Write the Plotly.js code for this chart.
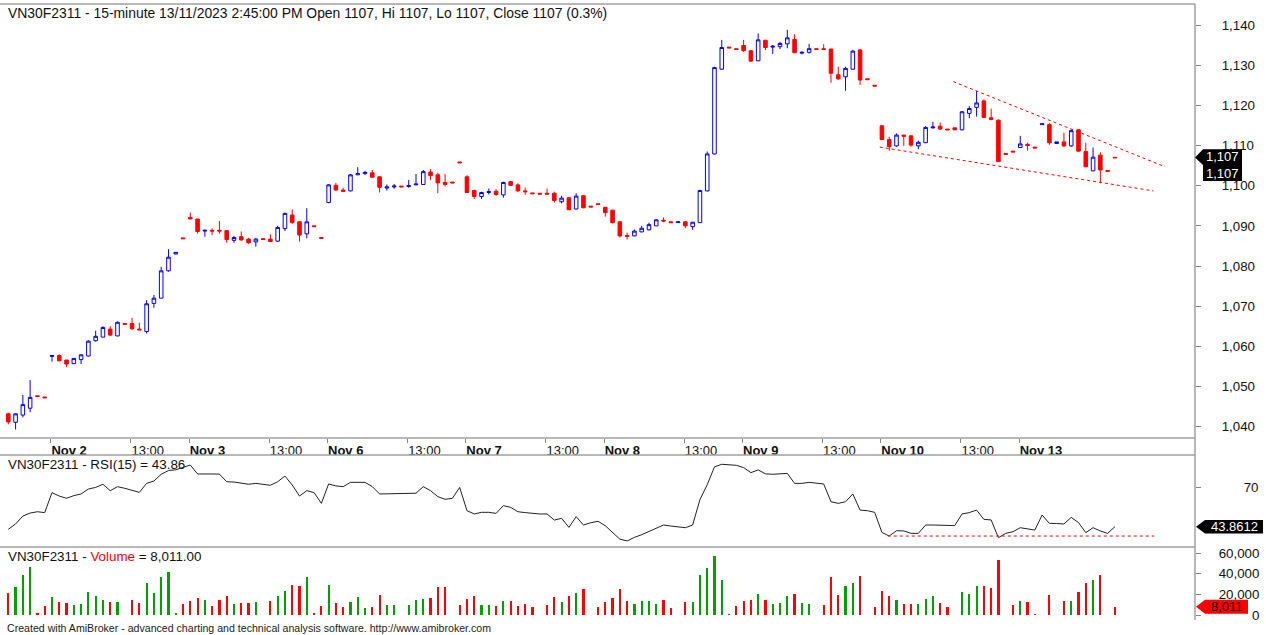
<!DOCTYPE html>
<html><head><meta charset="utf-8">
<script src="https://cdn.plot.ly/plotly-3.0.1.min.js"></script>
<style>html,body{margin:0;padding:0;background:#fff;}#chart{width:1266px;height:635px;}</style>
</head><body><div id="chart"></div>
<script>
// ---- Data (15-minute bars, VN30F2311, 1 Nov afternoon .. 13 Nov 2023) ----
const opens = [
1043.2,1041.1,1042.9,1044.6,1047.7,1047.4,1057.5,1057.7,1056.6,1055.7,
1056.7,1057.6,1061.4,1062.3,1064.3,1062.6,1065.7,1065.7,1064.3,1063.7,
1070.7,1072.0,1078.8,1083.0,1087.0,1092.1,1091.7,1088.7,1088.9,1088.9,
1088.8,1086.4,1087.3,1086.7,1086.0,1086.8,1086.7,1086.2,1089.3,1092.7,
1091.0,1088.0,1090.0,1087.1,1095.8,1100.1,1098.9,1098.7,1102.7,1103.0,
1103.2,1102.2,1099.4,1099.7,1099.9,1099.8,1100.2,1100.3,1103.4,1102.7,
1100.8,1100.9,1105.9,1102.2,1098.8,1097.3,1098.3,1098.6,1097.7,1101.0,
1100.2,1098.7,1098.2,1098.1,1098.1,1098.1,1096.0,1097.0,1094.2,1097.5,
1094.9,1095.5,1094.6,1093.9,1091.0,1087.6,1087.5,1088.5,1089.0,1090.0,
1091.4,1091.0,1090.8,1091.0,1089.8,1090.8,1098.7,1107.9,1129.0,1134.5,
1134.1,1134.9,1133.6,1131.1,1136.2,1134.5,1134.6,1135.3,1136.4,1133.0,
1133.2,1134.1,1134.1,1134.0,1127.6,1127.1,1129.0,1133.8,1126.6,1125.0,
1114.9,1111.5,1109.9,1112.6,1112.4,1109.9,1110.7,1114.4,1114.8,1114.1,
1114.4,1113.9,1118.0,1119.5,1121.1,1116.9,1116.3,1108.0,1108.6,1109.5,
1110.3,1109.6,1115.2,1115.2,1110.5,1110.9,1109.9,1113.9,1108.5,1103.7,
1107.6,1103.8,1107.05];
const highs = [
1043.5,1043.3,1047.9,1051.6,1047.7,1047.4,1057.7,1058.0,1056.6,1057.0,
1058.0,1061.5,1063.9,1065.0,1065.0,1066.2,1065.7,1067.1,1065.9,1071.5,
1072.8,1079.8,1084.2,1083.4,1087.0,1093.3,1091.7,1088.9,1089.4,1091.2,
1088.8,1087.5,1088.6,1087.0,1087.0,1086.8,1087.9,1090.0,1093.3,1094.1,
1091.2,1094.4,1090.0,1087.1,1100.4,1100.7,1099.5,1102.9,1104.6,1103.7,
1103.9,1102.3,1100.3,1100.4,1099.9,1101.4,1102.9,1103.9,1104.1,1103.2,
1102.9,1100.9,1105.9,1102.6,1099.0,1098.5,1099.3,1099.1,1101.0,1101.2,
1100.6,1099.5,1098.2,1098.1,1099.3,1098.5,1097.5,1097.1,1098.1,1097.6,
1094.9,1095.5,1094.7,1094.0,1091.1,1088.3,1089.1,1090.0,1090.8,1091.6,
1092.1,1091.0,1091.0,1091.1,1091.0,1099.0,1108.5,1129.6,1136.3,1134.5,
1134.1,1136.3,1133.7,1137.9,1136.3,1135.0,1135.8,1138.8,1137.7,1133.4,
1135.3,1134.1,1135.2,1134.1,1129.6,1129.6,1133.8,1134.0,1126.6,1125.0,
1115.0,1112.2,1113.0,1112.6,1112.5,1111.2,1114.8,1115.9,1115.7,1114.1,
1114.4,1118.6,1119.8,1123.6,1121.5,1119.2,1116.5,1108.0,1108.6,1112.4,
1110.7,1109.6,1115.4,1115.6,1110.9,1113.2,1114.0,1114.0,1110.7,1109.5,
1108.3,1103.8,1107.05];
const lows = [
1040.6,1039.3,1042.3,1043.6,1047.5,1047.2,1056.2,1056.3,1054.8,1055.6,
1055.6,1057.5,1061.2,1062.3,1062.6,1062.5,1065.5,1064.1,1064.1,1063.2,
1069.6,1072.0,1078.6,1083.0,1086.8,1091.7,1088.1,1087.3,1087.7,1088.1,
1085.8,1085.8,1086.3,1085.5,1084.8,1086.6,1086.0,1086.0,1088.7,1090.5,
1086.1,1086.9,1089.8,1086.9,1095.6,1098.9,1098.5,1098.6,1102.7,1102.7,
1102.1,1098.3,1098.8,1099.2,1099.7,1099.5,1100.2,1100.3,1101.4,1098.1,
1099.8,1100.7,1105.7,1098.2,1096.7,1096.7,1097.8,1097.5,1097.0,1100.0,
1098.5,1097.7,1098.0,1097.9,1097.9,1095.8,1095.6,1094.0,1094.1,1094.4,
1094.7,1095.3,1092.3,1090.6,1087.1,1086.6,1087.4,1088.4,1088.9,1090.0,
1090.9,1090.8,1090.8,1089.4,1089.0,1090.7,1098.6,1107.8,1128.9,1134.3,
1133.9,1133.3,1130.9,1131.0,1133.8,1132.8,1134.0,1134.2,1133.0,1132.7,
1132.9,1133.9,1133.9,1125.6,1126.3,1123.6,1128.9,1125.1,1126.4,1124.8,
1111.3,1108.7,1109.7,1109.9,1109.7,1109.1,1110.6,1114.2,1113.9,1113.9,
1113.9,1113.8,1116.8,1117.2,1116.9,1116.3,1105.9,1107.8,1108.4,1109.4,
1108.7,1109.4,1115.2,1110.2,1110.5,1109.7,1109.7,1108.5,1104.6,1103.6,
1100.6,1103.6,1106.95];
const closes = [
1041.2,1043.2,1045.5,1047.3,1047.5,1047.2,1057.7,1056.4,1055.6,1057.0,
1057.9,1061.3,1062.5,1064.7,1062.8,1066.0,1065.5,1064.4,1064.1,1070.6,
1072.0,1078.8,1082.2,1083.4,1086.8,1091.7,1088.6,1088.9,1088.7,1088.7,
1086.6,1087.1,1086.5,1085.8,1086.7,1086.6,1086.1,1089.6,1093.1,1090.8,
1087.7,1091.0,1089.8,1086.9,1100.2,1098.9,1098.6,1102.7,1103.0,1103.3,
1102.1,1099.6,1099.7,1099.9,1099.7,1100.0,1100.4,1103.5,1102.5,1100.7,
1100.3,1100.7,1105.7,1098.3,1097.3,1098.3,1098.5,1097.8,1100.8,1100.1,
1098.7,1098.5,1098.0,1097.9,1097.9,1096.3,1096.9,1094.0,1097.4,1094.5,
1094.7,1095.3,1093.3,1090.8,1087.5,1087.4,1088.7,1089.4,1090.3,1091.5,
1091.2,1090.8,1091.0,1090.0,1090.9,1098.8,1107.9,1129.4,1134.4,1134.3,
1133.9,1133.6,1131.0,1136.3,1134.4,1134.7,1135.4,1136.8,1133.1,1133.2,
1134.1,1133.9,1133.9,1128.0,1126.6,1129.2,1133.5,1126.3,1126.4,1124.8,
1111.5,1109.7,1112.6,1112.3,1110.1,1110.8,1114.5,1114.6,1114.1,1113.9,
1113.9,1118.4,1119.2,1120.6,1117.0,1116.5,1106.0,1107.8,1108.4,1110.4,
1110.0,1109.4,1115.4,1110.7,1110.9,1109.9,1113.7,1108.6,1104.7,1107.1,
1103.9,1103.6,1106.95];
const rsiValues = [
42.1,45.7,51.0,53.0,53.9,53.3,66.7,64.4,62.9,64.7,
65.8,69.1,70.2,72.3,68.0,70.7,69.6,68.0,66.9,72.9,
74.5,79.0,81.5,82.0,83.5,85.2,79.2,79.4,79.2,79.1,
74.0,73.8,72.8,72.3,72.9,72.3,71.6,74.0,77.8,71.8,
64.4,68.0,66.7,59.5,72.5,71.2,70.7,73.6,73.6,73.6,
70.7,65.8,65.9,66.0,66.0,66.1,66.3,70.7,68.0,64.0,
62.2,62.9,70.2,54.6,52.4,53.5,53.5,52.8,58.0,56.8,
53.9,53.3,52.6,52.4,52.4,48.3,49.5,43.4,50.6,45.0,
46.5,47.5,44.5,40.0,35.5,34.3,36.7,38.5,40.5,43.0,
45.0,44.3,44.0,43.2,45.0,62.0,72.0,84.0,85.7,85.4,
85.0,83.5,80.1,81.9,79.3,79.0,79.2,79.6,72.9,72.9,
73.6,72.9,72.5,60.6,59.5,60.6,65.8,55.0,54.6,53.5,
40.0,37.6,41.2,41.0,39.4,39.4,45.0,45.0,44.8,44.6,
44.6,52.4,53.3,55.0,48.8,48.4,36.5,39.4,40.5,43.2,
42.3,41.6,51.7,46.1,46.0,45.7,50.1,46.6,39.9,43.2,
41.0,39.4,43.8612];
const volumes = [
21650,26860,38840,46280,1600,8740,17800,12300,11330,9700,
10680,22650,18770,14560,12300,12300,0,14560,11330,30740,
21680,36570,42070,1600,10680,13590,16830,14560,8740,14560,
18450,10680,12000,12000,12300,0,13920,18770,23620,29130,
28160,37220,1600,8740,29130,11330,8090,12300,17800,7120,
8090,19420,9710,9710,0,9710,14560,15530,16830,26860,
26860,0,9710,15530,18770,9710,9710,9060,13920,13920,
8740,10680,7440,0,9710,17800,12300,18770,21680,25020,
0,7440,12300,16180,24920,13590,10360,13590,13590,10680,
14560,6470,0,12300,12300,38840,45310,57280,34300,970,
8740,13920,14560,20390,14560,10680,12000,18770,20390,11330,
10680,0,9710,37220,19420,28160,30740,37860,0,7440,
23300,18770,14560,10680,10680,10680,15530,18770,11330,7440,
0,22650,20390,28160,28160,25890,53400,0,9710,13590,
12300,970,0,19420,0,13590,13590,22650,30740,34300,
38840,0,8011];

const dayTickIdx  = [6,17,25,36,44,55,63,74,82,93,101,112,120,131,139];
const dayTickText = ['Nov 2','13:00','Nov 3','13:00','Nov 6','13:00','Nov 7','13:00','Nov 8','13:00','Nov 9','13:00','Nov 10','13:00','Nov 13'];
const priceTicks  = [1040,1050,1060,1070,1080,1090,1100,1110,1120,1130,1140];
const rsiTicks    = [70];
const volumeTicks = [0,20000,40000,60000];
const volumeTickText = ['\u2007\u2007\u2007\u2007\u20080','20,000','40,000','60,000'];

const upperTrendX = [129.8,158.9], upperTrendY = [1125.9,1104.7];
const lowerTrendX = [119.7,157.3], lowerTrendY = [1109.6,1098.7];
const rsiSupportX = [120.8,157.4], rsiSupportY = [37.6,37.6];

const symbol = 'VN30F2311';
const lastClose = 1107, lastRsi = 43.8612, lastVolume = 8011;

// ---- Build ----
const idx = opens.map((_, i) => i);
const volColors = idx.map(i => closes[i] > opens[i] ? '#00a000' : '#ff0000');
const FONT = 'Liberation Sans, Arial, sans-serif';
const RED = '#ff0000';

const traces = [
  { type:'candlestick', x:idx, open:opens, high:highs, low:lows, close:closes,
    xaxis:'x', yaxis:'y', whiskerwidth:0,
    increasing:{line:{color:'#0000ff',width:1}, fillcolor:'#ffffff'},
    decreasing:{line:{color:RED,width:1}, fillcolor:RED}, hoverinfo:'skip' },
  { type:'scatter', mode:'lines', x:upperTrendX, y:upperTrendY, xaxis:'x', yaxis:'y',
    line:{color:RED,width:1,dash:'3px,3px'}, hoverinfo:'skip' },
  { type:'scatter', mode:'lines', x:lowerTrendX, y:lowerTrendY, xaxis:'x', yaxis:'y',
    line:{color:RED,width:1,dash:'3px,3px'}, hoverinfo:'skip' },
  { type:'scatter', mode:'lines', x:idx, y:rsiValues, xaxis:'x', yaxis:'y2',
    line:{color:'#222222',width:1}, hoverinfo:'skip' },
  { type:'scatter', mode:'lines', x:rsiSupportX, y:rsiSupportY, xaxis:'x', yaxis:'y2',
    line:{color:RED,width:1,dash:'3px,3px'}, hoverinfo:'skip' },
  { type:'bar', x:idx, y:volumes, xaxis:'x', yaxis:'y3', width:0.3,
    marker:{color:volColors, line:{width:0}}, hoverinfo:'skip' }
];

// pixel geometry helpers (plot area 0..1195 px wide, 4..620 px tall)
const PW = 1195, TOP = 4, BOT = 620, PH = BOT - TOP;
const py = p => (BOT - p) / PH;   // pixel y -> paper y
const px = p => p / PW;           // pixel x -> paper x

const gray = '#a0a0a0';
const shapes = [
  {type:'line', xref:'paper', yref:'paper', x0:0, x1:1, y0:py(4), y1:py(4), line:{color:gray,width:1.5}},
  {type:'line', xref:'paper', yref:'paper', x0:0, x1:1, y0:py(438), y1:py(438), line:{color:gray,width:1.5}},
  {type:'line', xref:'paper', yref:'paper', x0:0, x1:1, y0:py(455), y1:py(455), line:{color:gray,width:1.5}},
  {type:'line', xref:'paper', yref:'paper', x0:0, x1:1, y0:py(547), y1:py(547), line:{color:gray,width:1.5}},
  {type:'line', xref:'paper', yref:'paper', x0:1, x1:1, y0:0, y1:1, line:{color:gray,width:1.5}}
];

const ppp = 4.017; // price px per point
shapes.push({type:'path', xref:'paper', yref:'y', fillcolor:'#000', line:{width:0},
  path:`M ${px(1195)} ${lastClose} L ${px(1203)} ${lastClose+8.3/ppp} L ${px(1242)} ${lastClose+8.3/ppp} L ${px(1242)} ${lastClose-23.5/ppp} L ${px(1203)} ${lastClose-23.5/ppp} L ${px(1203)} ${lastClose-7.5/ppp} Z`});
const rpp = 1.492; // rsi px per unit
shapes.push({type:'path', xref:'paper', yref:'y2', fillcolor:'#000', line:{width:0},
  path:`M ${px(1196)} ${lastRsi} L ${px(1205)} ${lastRsi+6.7/rpp} L ${px(1263)} ${lastRsi+6.7/rpp} L ${px(1263)} ${lastRsi-6.7/rpp} L ${px(1205)} ${lastRsi-6.7/rpp} Z`});
const vpp = 970.9; // volume units per px
shapes.push({type:'path', xref:'paper', yref:'y3', fillcolor:RED, line:{width:0},
  path:`M ${px(1196)} ${lastVolume} L ${px(1205)} ${lastVolume+7*vpp} L ${px(1248)} ${lastVolume+7*vpp} L ${px(1248)} ${lastVolume-7*vpp} L ${px(1205)} ${lastVolume-7*vpp} Z`});

const fmt = v => v.toLocaleString('en-US');
const annotations = [
  {xref:'paper', yref:'paper', x:px(6), y:py(13), xanchor:'left', yanchor:'middle', showarrow:false,
   text:`${symbol} - 15-minute 13/11/2023 2:45:00 PM Open ${lastClose}, Hi ${lastClose}, Lo ${lastClose}, Close ${lastClose} (0.3%)`,
   font:{family:FONT,size:13.9,color:'#111'}},
  {xref:'paper', yref:'paper', x:px(6), y:py(464), xanchor:'left', yanchor:'middle', showarrow:false,
   text:`${symbol} - RSI(15) = ${lastRsi.toFixed(2)}`, font:{family:FONT,size:13.4,color:'#111'}},
  {xref:'paper', yref:'paper', x:px(6), y:py(556), xanchor:'left', yanchor:'middle', showarrow:false,
   text:`${symbol} - <span style="color:#ff0000">Volume</span> = ${fmt(lastVolume)}.00`, font:{family:FONT,size:13.4,color:'#111'}},
  {xref:'paper', yref:'paper', x:px(5), y:py(628), xanchor:'left', yanchor:'middle', showarrow:false,
   text:'Created with AmiBroker - advanced charting and technical analysis software. http://www.amibroker.com',
   font:{family:FONT,size:10.6,color:'#222'}},
  {xref:'paper', yref:'y', x:px(1222.5), y:lastClose-7.6/ppp, xanchor:'center', yanchor:'middle', showarrow:false,
   text:`${fmt(lastClose)}<br>${fmt(lastClose)}`, font:{family:FONT,size:13,color:'#fff'}},
  {xref:'paper', yref:'y2', x:px(1234), y:lastRsi, xanchor:'center', yanchor:'middle', showarrow:false,
   text:`${lastRsi}`, font:{family:FONT,size:13,color:'#fff'}},
  {xref:'paper', yref:'y3', x:px(1226.5), y:lastVolume, xanchor:'center', yanchor:'middle', showarrow:false,
   text:fmt(lastVolume), font:{family:FONT,size:13,color:'#000'}}
];

const axisCommon = {showgrid:false, zeroline:false, showline:false, ticks:'outside', ticklen:5,
  tickcolor:'#888', tickwidth:1, fixedrange:true, side:'right', anchor:'x',
  tickfont:{family:FONT,size:13.3,color:'#111'}};

const layout = {
  width:1266, height:635, margin:{l:0,r:71,t:TOP,b:635-BOT,pad:0},
  paper_bgcolor:'#fff', plot_bgcolor:'#fff', showlegend:false, bargap:0,
  font:{family:FONT},
  xaxis:{domain:[0,1], range:[-1.14,163.0], anchor:'y', showgrid:false, zeroline:false, showline:false,
    rangeslider:{visible:false}, fixedrange:true,
    tickmode:'array', tickvals:dayTickIdx.map(i => i-0.15),
    ticktext:dayTickText.map(t => t.startsWith('Nov') ? `<b>${t}</b>` : t),
    ticks:'outside', ticklen:4, tickcolor:'#888', ticklabelposition:'outside right',
    tickfont:{family:FONT,size:13,color:'#111'}},
  yaxis:Object.assign({}, axisCommon, {domain:[py(438),1], range:[1140-(438-25)/ppp, 1140+(25-TOP)/ppp],
    tickmode:'array', tickvals:priceTicks, tickformat:',d', ticklabelstandoff:18}),
  yaxis2:Object.assign({}, axisCommon, {domain:[py(547),py(455)],
    range:[70-(547-487.7)/rpp, 70+(487.7-455)/rpp], tickmode:'array', tickvals:rsiTicks, ticklabelstandoff:40}),
  yaxis3:Object.assign({}, axisCommon, {domain:[0,py(547)],
    range:[-(BOT-615)*vpp, (615-547)*vpp], tickmode:'array', tickvals:volumeTicks, ticktext:volumeTickText, ticklabelstandoff:15}),
  shapes:shapes, annotations:annotations
};

Plotly.newPlot('chart', traces, layout, {staticPlot:true, displayModeBar:false});
</script></body></html>
